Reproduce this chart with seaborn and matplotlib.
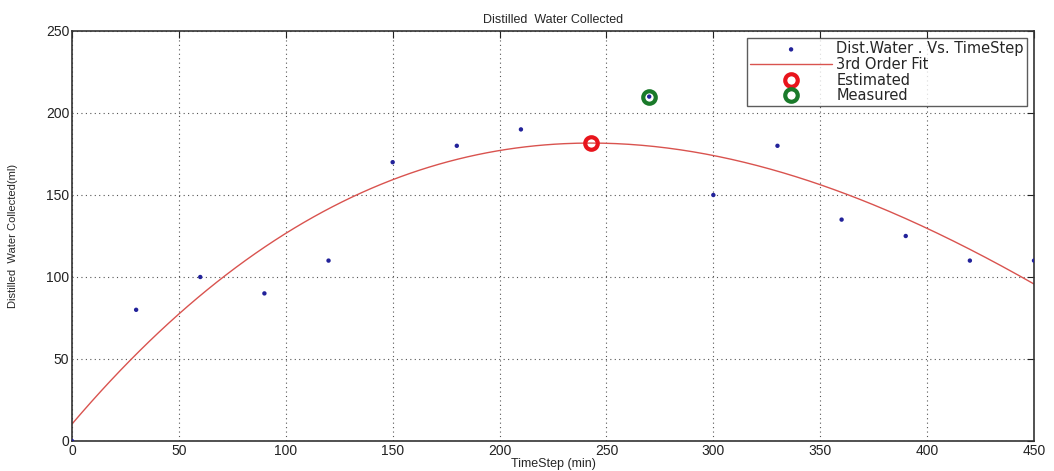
import numpy as np
import pandas as pd
import matplotlib
matplotlib.use("Agg")
import matplotlib.pyplot as plt
import seaborn as sns

# Data
time_step = [0, 30, 60, 90, 120, 150, 180, 210, 270, 300, 330, 360, 390, 420, 450]
water = [0, 80, 100, 90, 110, 170, 180, 190, 210, 150, 180, 135, 125, 110, 110]
estimated = (243, 182)
measured = (270, 210)
x_ticks = [0, 50, 100, 150, 200, 250, 300, 350, 400, 450]
y_ticks = [0, 50, 100, 150, 200, 250]

sns.set_style("white")
plt.rcParams['font.family'] = ['Liberation Sans', 'DejaVu Sans']

df = pd.DataFrame({"t": time_step, "w": water})
coef = np.polyfit(df["t"], df["w"], 3)
xf = np.linspace(0, 450, 300)
fit = pd.DataFrame({"t": xf, "w": np.polyval(coef, xf)})

fig = plt.figure(figsize=(10.54, 4.71), dpi=100)
ax = fig.add_axes([72/1054, 1 - 441/471, (1034-72)/1054, (441-31)/471])

sns.scatterplot(data=df, x="t", y="w", ax=ax, color="#22229a", s=10,
                edgecolor="none", label="Dist.Water . Vs. TimeStep", zorder=3)
sns.lineplot(data=fit, x="t", y="w", ax=ax, color="#d9534f", linewidth=1.0,
             label="3rd Order Fit", zorder=2)
ax.plot([estimated[0]], [estimated[1]], linestyle="none", marker="o", markersize=9,
        markerfacecolor="none", markeredgecolor="#e8141c", markeredgewidth=3,
        label="Estimated", zorder=4)
ax.plot([measured[0]], [measured[1]], linestyle="none", marker="o", markersize=9,
        markerfacecolor="none", markeredgecolor="#1a7a2a", markeredgewidth=3,
        label="Measured", zorder=4)

ax.set_xlim(0, 450)
ax.set_ylim(0, 250)
ax.set_xticks(x_ticks)
ax.set_yticks(y_ticks)
ax.grid(True, linestyle=(0, (1, 3)), color="#555555", linewidth=0.8)
ax.tick_params(direction="in", length=5, labelsize=10, colors="#222222",
               top=True, right=True, pad=2)
for s in ax.spines.values():
    s.set_color("#333333")
    s.set_linewidth(1.2)

ax.set_title("Distilled  Water Collected", fontsize=9, pad=6)
ax.set_xlabel("TimeStep (min)", fontsize=9, labelpad=0)
ax.set_ylabel("Distilled  Water Collected(ml)", fontsize=8, labelpad=20)

leg = ax.legend(loc="upper right", prop={"family": "DejaVu Sans", "size": 10.5},
                frameon=True, fancybox=False,
                edgecolor="#333333", borderpad=0.2, labelspacing=0.05,
                handlelength=5.6, handletextpad=0.3, borderaxespad=0.5)
leg.get_frame().set_linewidth(1.0)

fig.savefig("out.png", dpi=100)
